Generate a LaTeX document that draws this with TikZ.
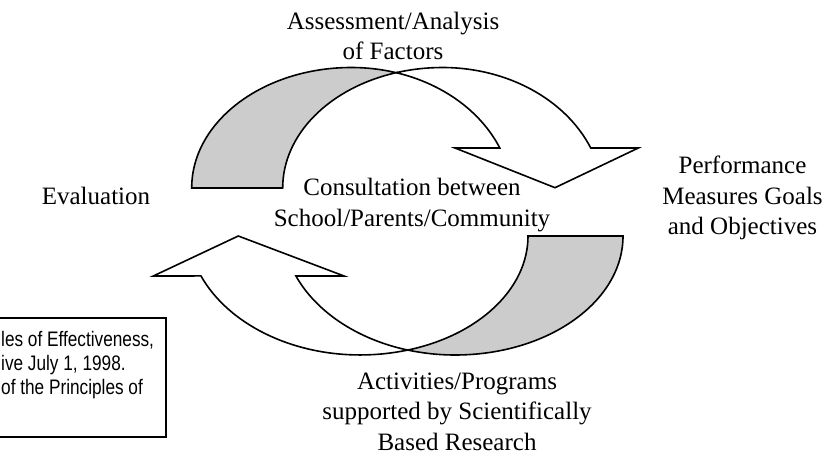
\documentclass[tikz,border=0pt]{standalone}
\usepackage{fontspec}
\setmainfont{Liberation Serif}
\newfontfamily\narrowsans[FakeStretch=0.82]{Liberation Sans}
\definecolor{shade}{RGB}{204,204,204}
\begin{document}
\begin{tikzpicture}[x=1pt,y=1pt,
  outline/.style={draw=black,line width=1.6pt,line join=miter},
  backface/.style={outline,fill=shade},
  frontface/.style={outline,fill=white},
  caption/.style={inner sep=0pt,align=center,font=\fontsize{25}{30.5}\selectfont},
  notetext/.style={inner sep=0pt,align=left,font=\narrowsans\fontsize{21}{24}\selectfont}]
\useasboundingbox (0,0) rectangle (840,455);
\clip (0,0) rectangle (840,455);

% upper curved arrow: shaded back face of the tail
\path[backface] (191.7,267)
  arc[start angle=180,end angle=90,x radius=159.8,y radius=120.5]
  arc[start angle=90,end angle=73.6,x radius=161.1,y radius=132.2]
  -- (397,382.5)
  arc[start angle=106.54,end angle=180,x radius=159.8,y radius=120.5]
  -- cycle;
% upper curved arrow: front face with head
\path[frontface] (397,382.5)
  arc[start angle=106.54,end angle=90,x radius=159.8,y radius=120.5]
  arc[start angle=90,end angle=23.02,x radius=161.1,y radius=132.2]
  -- (638.3,307) -- (555,267.3) -- (455,307) -- (499.8,307)
  arc[start angle=23.02,end angle=73.6,x radius=161.1,y radius=132.2]
  -- cycle;

% lower curved arrow: shaded back face of the tail
\path[backface] (623,219)
  arc[start angle=0,end angle=-90,x radius=168,y radius=119]
  arc[start angle=270,end angle=254.06,x radius=173,y radius=130.2]
  -- (407.5,104.9)
  arc[start angle=-73.58,end angle=0,x radius=168,y radius=119]
  -- cycle;
% lower curved arrow: front face with head
\path[frontface] (407.5,104.9)
  arc[start angle=-73.58,end angle=-90,x radius=168,y radius=119]
  arc[start angle=270,end angle=203.15,x radius=173,y radius=130.2]
  -- (153.3,179) -- (238.3,219) -- (344,179) -- (295.9,179)
  arc[start angle=203.15,end angle=254.06,x radius=173,y radius=130.2]
  -- cycle;

% stage labels (anchored on the baseline of their last line)
\node[caption,anchor=base] (assess) at (393,395) {Assessment/Analysis\\of Factors};
\node[caption,anchor=base] (measures) at (742.5,220) {Performance\\Measures Goals\\and Objectives};
\node[caption,anchor=base] (consult) at (412,228.5) {Consultation between\\School/Parents/Community};
\node[caption,anchor=base] (evaluate) at (96,250) {Evaluation};
\node[caption,anchor=base] (activities) at (457,5) {Activities/Programs\\supported by Scientifically\\Based Research};

% side note box
\draw[line width=1.3pt] (-10,137) rectangle (166,18);
\node[notetext,anchor=base west] (note) at (1,60) {les of Effectiveness,\\ive July 1, 1998.\\of the Principles of};
\end{tikzpicture}
\end{document}
